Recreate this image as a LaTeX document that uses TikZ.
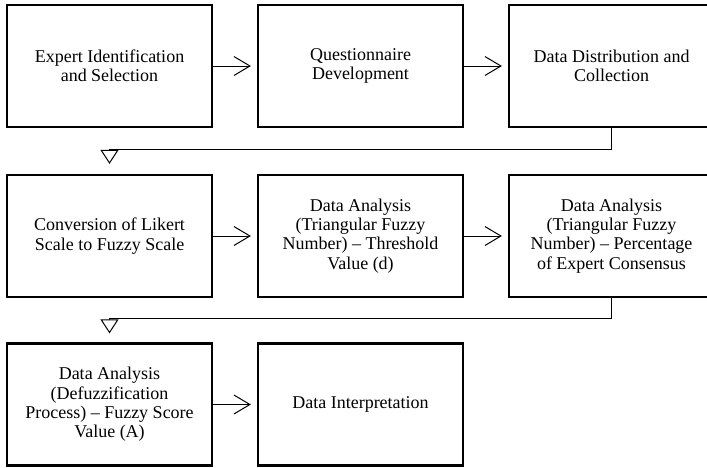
\documentclass[tikz,border=0pt]{standalone}
\usepackage{fontspec}
\setmainfont{Liberation Serif}
\usetikzlibrary{arrows.meta}
\begin{document}
\begin{tikzpicture}[x=1pt,y=-1pt,
  stepbox/.style={draw, line width=2.2pt, minimum width=205pt, minimum height=122pt,
    inner sep=0pt, align=center, font=\fontsize{18}{19.3}\selectfont},
  flow/.style={line width=1pt, -{Straight Barb[length=16pt,width=19pt,line width=1pt]}, shorten >=6pt},
  wrap/.style={line width=1pt, -{Triangle[length=14pt,width=18pt,line width=1pt,fill=white]}}]
  \useasboundingbox (0,0) rectangle (707,467);
  \clip (0,0) rectangle (707,467);
  % first row
  \node[stepbox] (s1) at (109.5,66) {Expert Identification\\and Selection};
  \node[stepbox] (s2) at (360.5,66) {Questionnaire\\Development};
  \node[stepbox] (s3) at (611.5,66) {Data Distribution and\\Collection};
  % second row
  \node[stepbox] (s4) at (109.5,236) {Conversion of Likert\\Scale to Fuzzy Scale};
  \node[stepbox] (s5) at (360.5,236) {Data Analysis\\(Triangular Fuzzy\\Number) -- Threshold\\Value (d)};
  \node[stepbox] (s6) at (611.5,236) {Data Analysis\\(Triangular Fuzzy\\Number) -- Percentage\\of Expert Consensus};
  % third row
  \node[stepbox] (s7) at (109.5,404.5) {Data Analysis\\(Defuzzification\\Process) -- Fuzzy Score\\Value (A)};
  \node[stepbox] (s8) at (360.5,404.5) {Data Interpretation};
  % arrows within rows
  \draw[flow] (s1.east) -- (s2.west);
  \draw[flow] (s2.east) -- (s3.west);
  \draw[flow] (s4.east) -- (s5.west);
  \draw[flow] (s5.east) -- (s6.west);
  \draw[flow] (s7.east) -- (s8.west);
  % arrows wrapping to the next row
  \draw[wrap] (s3.south) |- ([yshift=24pt]s4.north) -- ([yshift=10pt]s4.north);
  \draw[wrap] (s6.south) |- ([yshift=24pt]s7.north) -- ([yshift=9pt]s7.north);
\end{tikzpicture}
\end{document}
